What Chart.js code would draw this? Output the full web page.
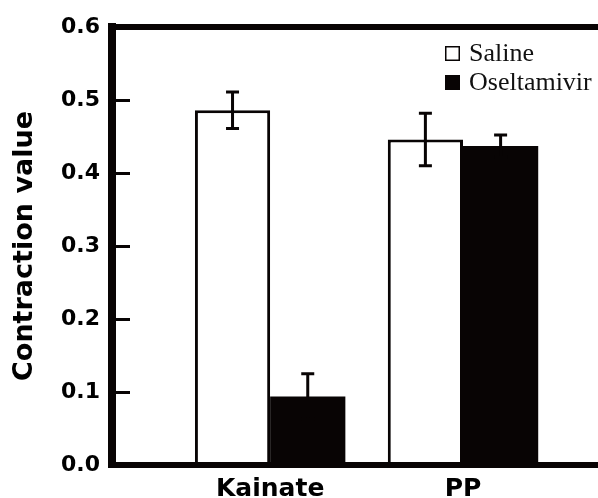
<!DOCTYPE html>
<html>
<head>
<meta charset="utf-8">
<script src="https://cdn.jsdelivr.net/npm/chart.js@4.4.1/dist/chart.umd.min.js"></script>
<style>
  html, body { margin: 0; padding: 0; background: #fff; }
</style>
</head>
<body>
<canvas id="graficoContraccion" width="598" height="498"></canvas>
<script>
/* Datos */
const categorias = ['Kainate', 'PP'];
const series = ['Saline', 'Oseltamivir'];
const salino = [0.486, 0.446];
const salinoError = [0.025, 0.036];
const oseltamivir = [0.094, 0.437];
const oseltamivirError = [0.031, 0.015];
const ticksY = [0.0, 0.1, 0.2, 0.3, 0.4, 0.5, 0.6];

const posiciones = categorias.map((_, i) => i + 1);
const NEGRO = '#080404';

// barras de error (media +/- error)
const barrasError = {
  id: 'barrasError',
  afterDatasetsDraw(chart) {
    const { ctx } = chart;
    const y = chart.scales.y;
    ctx.save();
    ctx.strokeStyle = NEGRO;
    ctx.lineWidth = 3;
    chart.data.datasets.forEach((ds, i) => {
      chart.getDatasetMeta(i).data.forEach((bar, j) => {
        const v = ds.data[j].y;
        const e = ds.errores[j];
        const yArriba = y.getPixelForValue(v + e);
        const yAbajo = y.getPixelForValue(v - e);
        ctx.beginPath();
        ctx.moveTo(bar.x, yArriba);
        ctx.lineTo(bar.x, yAbajo);
        ctx.moveTo(bar.x - 6.5, yArriba);
        ctx.lineTo(bar.x + 6.5, yArriba);
        ctx.moveTo(bar.x - 6.5, yAbajo);
        ctx.lineTo(bar.x + 6.5, yAbajo);
        ctx.stroke();
      });
    });
    ctx.restore();
  }
};

// marcas del eje Y hacia dentro
const marcasDentro = {
  id: 'marcasDentro',
  afterDraw(chart) {
    const { ctx, chartArea } = chart;
    const y = chart.scales.y;
    ctx.save();
    ctx.strokeStyle = NEGRO;
    ctx.lineWidth = 3;
    ticksY.slice(1, -1).forEach(v => {
      const py = Math.round(y.getPixelForValue(v)) + 0.5;
      ctx.beginPath();
      ctx.moveTo(chartArea.left + 4, py);
      ctx.lineTo(chartArea.left + 18, py);
      ctx.stroke();
    });
    ctx.restore();
  }
};

// leyenda arriba a la derecha
const leyenda = {
  id: 'leyenda',
  afterDraw(chart) {
    const { ctx } = chart;
    ctx.save();
    ctx.font = '26px "Liberation Serif"';
    ctx.textBaseline = 'middle';
    ctx.textAlign = 'left';
    chart.data.datasets.forEach((ds, i) => {
      const cy = 53 + i * 29;
      ctx.fillStyle = ds.backgroundColor;
      ctx.fillRect(445, cy - 7, 15, 15);
      ctx.strokeStyle = NEGRO;
      ctx.lineWidth = 1.5;
      ctx.strokeRect(445.75, cy - 6.25, 13.5, 13.5);
      ctx.fillStyle = '#111';
      ctx.fillText(ds.label, 469, cy + 1);
    });
    ctx.restore();
  }
};

const ctx = document.getElementById('graficoContraccion');

new Chart(ctx, {
  type: 'bar',
  data: {
    datasets: [{
      label: series[0],
      data: posiciones.map((x, i) => ({ x, y: salino[i] })),
      errores: salinoError,
      backgroundColor: '#ffffff',
      borderColor: NEGRO,
      borderWidth: 3
    }, {
      label: series[1],
      data: posiciones.map((x, i) => ({ x, y: oseltamivir[i] })),
      errores: oseltamivirError,
      backgroundColor: NEGRO,
      borderWidth: 0
    }]
  },
  options: {
    responsive: false,
    animation: false,
    categoryPercentage: 0.78,
    barPercentage: 1,
    layout: { padding: { top: 27, right: 0, left: 0, bottom: 0 } },
    scales: {
      x: {
        type: 'linear',
        min: 0.18,
        max: 2.70,
        offset: false,
        z: 1,
        afterBuildTicks: s => { s.ticks = posiciones.map(v => ({ value: v })); },
        afterFit: s => { s.height = 33; },
        grid: { display: false, offset: false },
        border: { display: true, color: NEGRO, width: 6 },
        ticks: {
          autoSkip: false,
          maxRotation: 0,
          padding: 1,
          color: '#000',
          font: { family: 'DejaVu Sans', weight: 'bold', size: 25 },
          callback: (v, i) => categorias[i]
        }
      },
      y: {
        min: 0,
        max: 0.6,
        z: 1,
        afterBuildTicks: s => { s.ticks = ticksY.map(v => ({ value: v })); },
        afterFit: s => { s.width = 112; },
        grid: {
          drawTicks: false,
          color: c => (c.tick && Math.abs(c.tick.value - 0.6) < 1e-9) ? NEGRO : 'rgba(0,0,0,0)',
          lineWidth: 6
        },
        border: { display: true, color: NEGRO, width: 8 },
        ticks: {
          padding: 12,
          color: '#000',
          font: { family: 'DejaVu Sans', weight: 'bold', size: 22 },
          callback: v => v.toFixed(1)
        },
        title: {
          display: true,
          text: 'Contraction value',
          color: '#000',
          padding: { top: 9, bottom: 0 },
          font: { family: 'DejaVu Sans', weight: 'bold', size: 27 }
        }
      }
    },
    plugins: {
      legend: { display: false },
      tooltip: { enabled: false }
    }
  },
  plugins: [barrasError, marcasDentro, leyenda]
});
</script>
</body>
</html>
